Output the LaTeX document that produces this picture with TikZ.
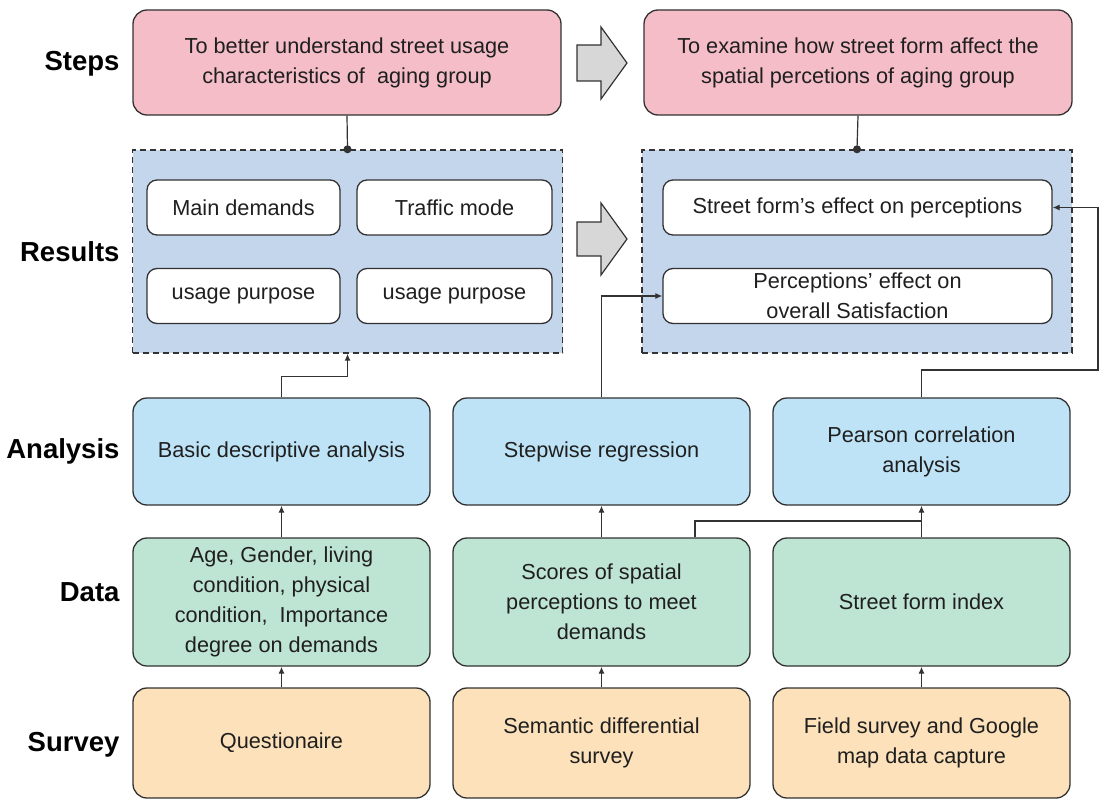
\documentclass[tikz,border=0pt]{standalone}
\usepackage{fontspec}
\setmainfont{Liberation Sans}
\setsansfont{Liberation Sans}
\usetikzlibrary{arrows.meta,calc}
\definecolor{pinkfill}{RGB}{244,189,200}
\definecolor{resfill}{RGB}{196,214,236}
\definecolor{anafill}{RGB}{190,227,246}
\definecolor{datafill}{RGB}{190,228,211}
\definecolor{survfill}{RGB}{252,225,186}
\definecolor{edge}{RGB}{50,50,50}
\definecolor{greyarrow}{RGB}{215,215,215}
\tikzset{
  box/.style={draw=edge, line width=1.3pt, rounded corners=14pt, align=center,
    inner sep=3pt, font=\fontsize{21.7}{30}\selectfont, text=black!88},
  stepbox/.style={box, fill=pinkfill, minimum width=428pt, minimum height=105pt},
  resgroup/.style={draw=black!80, line width=1.4pt, dash pattern=on 6pt off 4pt,
    fill=resfill, minimum width=430pt, minimum height=203pt},
  resitem/.style={box, fill=white, rounded corners=10pt, minimum height=55pt},
  anabox/.style={box, fill=anafill, minimum width=297pt, minimum height=107pt},
  databox/.style={box, fill=datafill, minimum width=297pt, minimum height=128pt},
  survbox/.style={box, fill=survfill, minimum width=297pt, minimum height=110pt},
  rowlabel/.style={anchor=east, font=\fontsize{27.5}{32}\selectfont\bfseries},
  arr/.style={draw=edge, line width=1.2pt, -{Latex[length=7pt,width=6pt]}},
  link/.style={draw=edge, line width=1.2pt},
  bigarrow/.style={draw=edge, line width=1.2pt, fill=greyarrow, line join=miter}
}
\begin{document}
\begin{tikzpicture}[x=1pt,y=-1pt]
\useasboundingbox (0,0) rectangle (1101,800);

% row labels
\node[rowlabel] (lsteps) at (123,64) {Steps};
\node[rowlabel] (lres) at (123,252) {Results};
\node[rowlabel] (lana) at (123,451) {Analysis};
\node[rowlabel] (ldata) at (123,592) {Data};
\node[rowlabel] (lsurv) at (123,745) {Survey};

% steps
\node[stepbox] (s1) at (347,62.5) {To better understand street usage\\characteristics of\ \ aging group};
\node[stepbox] (s2) at (858,62.5) {To examine how street form affect the\\spatial percetions of aging group};

% results groups
\node[resgroup] (r1) at (347.5,251.5) {};
\node[resgroup] (r2) at (857,251.5) {};
\node[resitem, minimum width=193pt] (r1a) at (243.5,207.5) {Main demands};
\node[resitem, minimum width=195pt] (r1b) at (454.5,207.5) {Traffic mode};
\node[resitem, minimum width=193pt] (r1c) at (243.5,296) {usage purpose};
\node[resitem, minimum width=195pt] (r1d) at (454.5,296) {usage purpose};
\node[resitem, minimum width=389pt] (r2a) at (857.5,207.5) {Street form's effect on perceptions};
\node[resitem, minimum width=389pt] (r2b) at (857.5,296) {Perceptions' effect on\\overall Satisfaction};

% analysis
\node[anabox] (a1) at (281.5,451.5) {Basic descriptive analysis};
\node[anabox] (a2) at (601.5,451.5) {Stepwise regression};
\node[anabox] (a3) at (921.5,451.5) {Pearson correlation\\analysis};

% data
\node[databox] (d1) at (281.5,602) {Age, Gender, living\\condition, physical\\condition,\ \ Importance\\degree on demands};
\node[databox] (d2) at (601.5,602) {Scores of spatial\\perceptions to meet\\demands};
\node[databox] (d3) at (921.5,602) {Street form index};

% survey
\node[survbox] (v1) at (281.5,743) {Questionaire};
\node[survbox] (v2) at (601.5,743) {Semantic differential\\survey};
\node[survbox] (v3) at (921.5,743) {Field survey and Google\\map data capture};

% big grey arrows between columns
\draw[bigarrow] (577,45) -- (601,45) -- (601,27) -- (627,63) -- (601,99) -- (601,81) -- (577,81) -- cycle;
\draw[bigarrow] (577,222) -- (601,222) -- (601,203) -- (627,239) -- (601,275) -- (601,256) -- (577,256) -- cycle;

% steps to results
\draw[link] (s1.south) -- (r1.north);
\fill[edge] (r1.north) circle (4pt);
\draw[link] (s2.south) -- (r2.north);
\fill[edge] (r2.north) circle (4pt);

% analysis to results
\draw[arr] (a1.north) -- ++(0,-21) -| (r1.south);
\draw[arr] (a2.north) |- (r2b.west);
\coordinate (c1) at (1098,370);
\draw[arr] (a3.north) |- (c1) |- (r2a.east);

% data to analysis
\draw[arr] (d1.north) -- (a1.south);
\draw[arr] (d2.north) -- (a2.south);
\draw[arr] (d3.north) -- (a3.south);
\coordinate (j) at (921.5,521);
\draw[link] ([xshift=93.5pt]d2.north) |- (j);

% survey to data
\draw[arr] (v1.north) -- (d1.south);
\draw[arr] (v2.north) -- (d2.south);
\draw[arr] (v3.north) -- (d3.south);
\end{tikzpicture}
\end{document}
